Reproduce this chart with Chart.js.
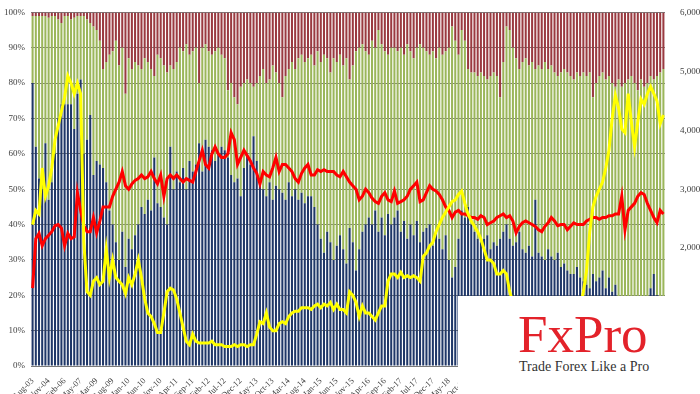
<!DOCTYPE html>
<html>
<head>
<meta charset="utf-8">
<script src="https://cdn.jsdelivr.net/npm/chart.js@4/dist/chart.umd.min.js"></script>
<style>
  body { margin: 0; background: #fff; }
  #wrap { position: relative; width: 700px; height: 394px; overflow: hidden; }
  #logo { position: absolute; left: 458px; top: 296px; width: 242px; height: 98px; background: #fff; }
  #logo .brand { position: absolute; left: 60px; top: 12px; font: 53px/1 "Liberation Serif", serif; color: #e3222a; }
  #logo .tag { position: absolute; left: 61px; top: 64px; font: 14px/1 "Liberation Serif", serif; color: #333; white-space: nowrap; }
</style>
</head>
<body>
<div id="wrap">
  <canvas id="chart" width="700" height="394"></canvas>
  <div id="logo"><span class="brand">FxPro</span><span class="tag">Trade Forex Like a Pro</span></div>
</div>
<script>
//early categories are quarterly, monthly from Mar-09 to Dec-23
const earlyLabels = ["Aug-03","Nov-03","Feb-04","May-04","Aug-04","Nov-04","Feb-05","May-05","Aug-05","Nov-05",
  "Feb-06","May-06","Aug-06","Nov-06","Feb-07","May-07","Sep-07","Jan-08","May-08","Oct-08"];
const monthNames = ["Jan","Feb","Mar","Apr","May","Jun","Jul","Aug","Sep","Oct","Nov","Dec"];

//bottom (navy) share, %
const navyShare = [80,62,53,50,63,47,52,60,70,74, 74,74,74,67,77,81,60,64,71,54,
  58,57,56,52,44,40,35,30,38,28, 36,33,37,40,45,43,47,44,59,46,
  45,42,40,62,50,55,52,56,50,58, 55,57,63,55,64,62,61,58,60,62,
  61,59,54,52,53,48,56,60,57,65, 58,52,50,48,52,47,51,50,49,47,
  52,48,50,47,49,46,48,48,45,40, 36,32,38,35,30,34,37,33,29,39,
  35,27,33,38,40,42,40,44,38,42, 37,43,40,42,44,38,41,36,40,37,
  41,35,38,39,40,34,38,36,33,37, 30,25,28,36,44,42,45,40,38,36,
  35,36,37,33,35,34,36,38,40,36, 34,35,38,33,32,34,31,47,32,31,
  30,33,31,30,32,28,29,27,26,26, 28,25,24,23,22,26,24,25,27,22,
  25,21,23,18,16,14,15,15,12,14, 13,15,17,22,26,20,14,12];

//middle (green) share, %
const greenShare = [19,37,46,49,36,51.5,47,39,28,23, 25,25,24,31.5,22,18,39,34,26,42,
  37,35,28,34,44,49,57,55,52,49, 51,51,49,45,39,44,39,40,23,42,
  42,43,43,23,34,31,38,33,41,30, 34,33,17,35,27,27,27,31,30,26,
  26,19,26,24,21,31,24,21,23,14, 22,30,34,32,29,38,32,30,27,35,
  32,38,34,40,39,40,39,40,40,49, 50,56,49,48,57,52,51,52,58,42,
  50,62,57,53,49,46,52,46,57,49, 52,45,50,48,45,52,47,55,49,50,
  49,56,52,50,48,55,49,54,55,52, 60,71,64,52,51,50,39,43,45,46,
  48,46,44,49,48,48,40,48,56,59, 56,52,46,53,55,51,55,37,53,53,
  56,51,54,53,50,55,55,56,56,55, 55,57,59,59,61,50,56,57,56,59,
  57,59,56,63,63,66,66,67,68,64, 68,64,63,60,55,62,69,72];

//top (dark red) share, %
const redShare = [1,1,1,1,1,1.5,1,1,2,3, 1,1,2,1.5,1,1,1,2,3,4,
  5,8,16,14,12,11,8,15,10,23, 13,16,14,15,16,13,14,16,18,12,
  13,15,17,15,16,14,10,11,9,12, 11,10,20,10,9,11,12,11,10,12,
  13,22,20,24,26,21,20,19,20,21, 20,18,16,20,19,15,17,20,24,18,
  16,14,16,13,12,14,13,12,15,11, 14,12,13,17,13,14,12,15,13,19,
  15,11,10,9,11,12,8,10,5,9, 11,12,10,10,11,10,12,9,11,13,
  10,9,10,11,12,11,13,10,12,11, 10,4,8,12,5,8,16,17,17,18,
  17,18,19,18,17,18,24,14,4,5, 10,13,16,14,13,15,14,16,15,16,
  14,16,15,17,18,17,16,17,18,19, 17,18,17,18,17,24,20,18,17,19,
  18,20,21,19,21,20,19,18,20,22, 19,21,20,18,19,18,17,16];

//yellow line, right axis
const yellowLine = [2400,2640,2580,3360,2880,3060,3360,3840,4080,4320, 4560,4920,4800,4620,4800,4620,2100,1260,1200,1440,
  1500,1380,1440,1980,1500,1800,1500,1440,1380,1230, 1500,1380,1560,1800,1500,1140,900,840,720,570,
  570,900,1260,1320,1290,1140,900,660,420,360, 540,420,390,390,390,390,420,360,360,360,
  330,330,330,360,330,360,360,330,360,360, 540,750,720,900,660,600,600,720,750,720,
  840,900,930,930,990,990,990,960,1020,1050, 990,1050,1020,1080,960,1050,960,960,900,1260,
  1200,1080,840,1020,900,900,840,780,900,1020, 1020,1440,1560,1560,1500,1590,1500,1530,1500,1530,
  1500,1440,1860,1920,2040,2100,2280,2400,2520,2610, 2700,2790,2820,2910,2970,2760,2580,2460,2370,2280,
  2160,1980,1800,1800,1740,1560,1560,1620,1560,1260, 1080,840,600,420,300,240,180,150,150,150,
  150,150,150,150,150,150,180,240,360,540, 720,960,1260,1620,2280,2700,2880,3000,3120,3360,
  3660,4200,4590,4380,4020,3960,4620,4140,3720,4140, 4530,4440,4620,4740,4620,4500,4110,4260];

//red line, right axis
const redLine = [1320,2160,2250,2040,2160,2220,2280,2380,2400,2340, 2040,2250,2160,2190,2940,2640,2380,2280,2280,2520,
  2260,2460,2700,2700,2700,2880,3000,3120,3300,3060, 3000,3090,3150,3180,3240,3180,3210,3300,3180,3090,
  3240,2880,3180,3240,3180,3240,3180,3120,3180,3150, 3120,3300,3480,3660,3420,3360,3600,3720,3600,3540,
  3540,3600,3960,3840,3420,3540,3660,3570,3480,3360, 3270,3090,3300,3240,3210,3360,3540,3300,3420,3420,
  3360,3300,3180,3120,3270,3360,3420,3240,3240,3330, 3300,3330,3300,3300,3300,3240,3210,3300,3210,3120,
  3060,3000,2820,2880,3000,2940,2850,2790,2760,2880, 2940,2820,2790,2970,2760,2790,2820,2880,3000,3060,
  3120,2790,2820,2940,3060,3000,2970,2910,2820,2700, 2640,2520,2610,2640,2580,2580,2550,2520,2520,2490,
  2550,2520,2400,2430,2460,2520,2550,2580,2520,2550, 2460,2260,2370,2430,2460,2430,2400,2370,2310,2280,
  2370,2430,2520,2460,2380,2400,2400,2310,2370,2430, 2400,2400,2400,2460,2490,2520,2520,2490,2520,2520,
  2550,2550,2580,2580,2880,2310,2640,2700,2760,2880, 2940,2910,2760,2640,2520,2430,2640,2580];

//percent ticks (left) and value ticks (right)
const leftTicks = [0,10,20,30,40,50,60,70,80,90,100];
const rightTicks = [0,1000,2000,3000,4000,5000,6000];

//build the category labels
const labels = earlyLabels.slice();
let m = 2, yr = 2009;
while (labels.length < navyShare.length) {
  labels.push(monthNames[m] + "-" + String(yr % 100).padStart(2, "0"));
  m++;
  if (m > 11) { m = 0; yr++; }
}

const serif = "'Liberation Serif', 'Times New Roman', serif";

function barSet(label, data, color) {
  return {
    type: "bar",
    label: label,
    data: data,
    backgroundColor: color,
    borderWidth: 0,
    barPercentage: 0.64,
    categoryPercentage: 1,
    yAxisID: "y",
    order: 3
  };
}

new Chart(document.getElementById("chart"), {
  type: "bar",
  data: {
    labels: labels,
    datasets: [
      {
        type: "line", label: "Yellow", data: yellowLine, borderColor: "#ffff00",
        borderWidth: 3, pointRadius: 0, tension: 0, yAxisID: "y2", order: 0
      },
      {
        type: "line", label: "Red", data: redLine, borderColor: "#ff0000",
        borderWidth: 3, pointRadius: 0, tension: 0, yAxisID: "y2", order: 1
      },
      barSet("Navy", navyShare, "#1f3768"),
      barSet("Green", greenShare, "#9bb65a"),
      barSet("Dark red", redShare, "#9a3a40")
    ]
  },
  options: {
    responsive: false,
    animation: false,
    layout: { padding: { top: 5, left: 0, right: 0, bottom: 0 } },
    plugins: { legend: { display: false }, tooltip: { enabled: false } },
    scales: {
      x: {
        stacked: true,
        grid: { display: false },
        border: { display: false },
        ticks: {
          autoSkip: false,
          minRotation: 45,
          maxRotation: 45,
          padding: 2,
          color: "#404040",
          font: { family: serif, size: 8.5 },
          callback: function (v, i) { return i % 5 === 0 ? labels[i] : null; }
        },
        afterFit: function (s) { s.height = 28; }
      },
      y: {
        stacked: true,
        min: 0,
        max: 100,
        afterBuildTicks: function (s) { s.ticks = leftTicks.map(v => ({ value: v })); },
        grid: { color: "#7a7a7a", lineWidth: 1, drawTicks: false },
        border: { display: false },
        ticks: {
          padding: 6,
          color: "#404040",
          font: { family: serif, size: 9 },
          callback: v => v + "%"
        },
        afterFit: function (s) { s.width = 31; }
      },
      y2: {
        position: "right",
        min: 0,
        max: 6000,
        afterBuildTicks: function (s) { s.ticks = rightTicks.map(v => ({ value: v })); },
        grid: { display: false },
        border: { display: false },
        ticks: {
          padding: 7,
          color: "#404040",
          font: { family: serif, size: 9 },
          callback: v => v.toLocaleString("en-US")
        },
        afterFit: function (s) { s.width = 35; }
      }
    }
  }
});
</script>
</body>
</html>
